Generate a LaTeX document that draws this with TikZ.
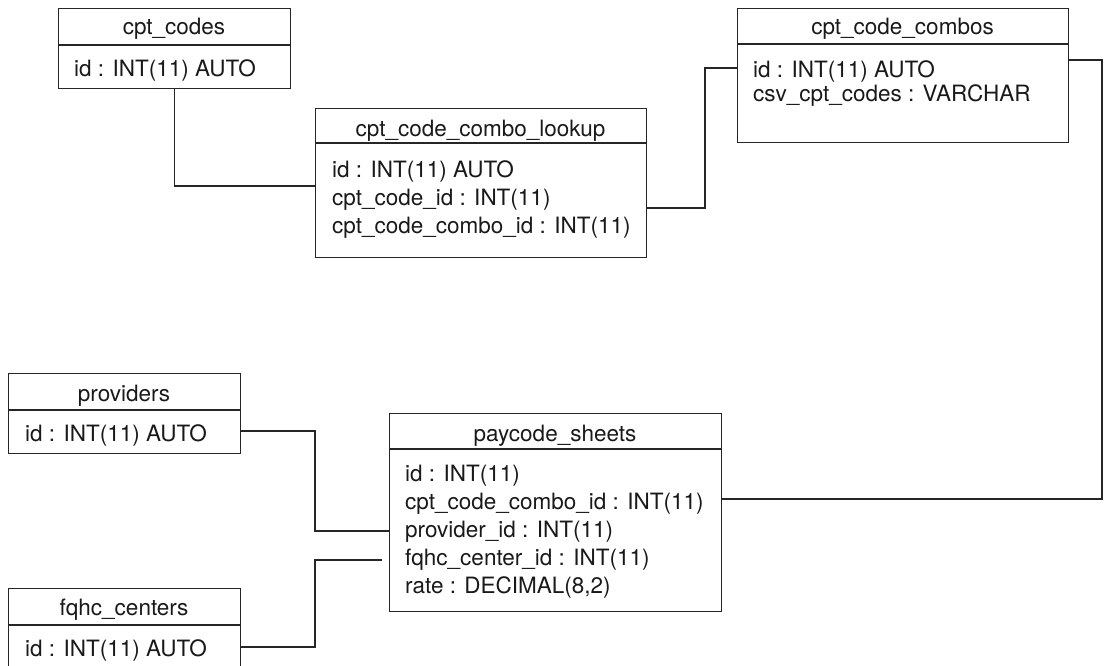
\documentclass[tikz,border=0pt]{standalone}
\usepackage{fontspec}
\setmainfont{TeX Gyre Heros}
\begin{document}
\begin{tikzpicture}[x=1pt,y=-1pt,
  tbl/.style={draw=black!85, line width=1.4pt, anchor=north west, inner sep=0pt, rectangle},
  sep/.style={draw=black!85, line width=1.4pt},
  hdr/.style={anchor=base, inner sep=0pt, font=\fontsize{22.5}{24}\selectfont, text=black!90},
  fld/.style={anchor=base west, inner sep=0pt, font=\fontsize{22.5}{24}\selectfont, text=black!90},
  conn/.style={draw=black!85, line width=1.4pt}]
\useasboundingbox (0,0) rectangle (1105,666);
\clip (0,0) rectangle (1105,666);

% cpt_codes
\node[tbl, minimum width=232pt, minimum height=80pt] (cc) at (58,8) {};
\draw[sep] (cc.west |- 0,45) -- (cc.east |- 0,45);
\node[hdr] (ccH) at (174,35) {cpt\_codes};
\node[fld] (cc1) at (74,77) {id : INT(11) AUTO};

% cpt_code_combo_lookup
\node[tbl, minimum width=331pt, minimum height=149pt] (lk) at (315,108) {};
\draw[sep] (lk.west |- 0,143) -- (lk.east |- 0,143);
\node[hdr] (lkH) at (480.5,136.5) {cpt\_code\_combo\_lookup};
\node[fld] (lk1) at (332,177.3) {id : INT(11) AUTO};
\node[fld] (lk2) at (332,205.3) {cpt\_code\_id : INT(11)};
\node[fld] (lk3) at (332,233.3) {cpt\_code\_combo\_id : INT(11)};

% cpt_code_combos
\node[tbl, minimum width=331pt, minimum height=134pt] (cb) at (737,8) {};
\draw[sep] (cb.west |- 0,44) -- (cb.east |- 0,44);
\node[hdr] (cbH) at (902.5,35) {cpt\_code\_combos};
\node[fld] (cb1) at (753,77.3) {id : INT(11) AUTO};
\node[fld] (cb2) at (753,101.7) {csv\_cpt\_codes : VARCHAR};

% providers
\node[tbl, minimum width=232pt, minimum height=80pt] (pr) at (8,373) {};
\draw[sep] (pr.west |- 0,410) -- (pr.east |- 0,410);
\node[hdr] (prH) at (124,401.5) {providers};
\node[fld] (pr1) at (25,441.7) {id : INT(11) AUTO};

% fqhc_centers
\node[tbl, minimum width=232pt, minimum height=80pt] (fq) at (8,588) {};
\draw[sep] (fq.west |- 0,625) -- (fq.east |- 0,625);
\node[hdr] (fqH) at (124,615.5) {fqhc\_centers};
\node[fld] (fq1) at (25,656.7) {id : INT(11) AUTO};

% paycode_sheets
\node[tbl, minimum width=332pt, minimum height=198pt] (ps) at (389,413) {};
\draw[sep] (ps.west |- 0,449) -- (ps.east |- 0,449);
\node[hdr] (psH) at (555,441.5) {paycode\_sheets};
\node[fld] (ps1) at (405,481.5) {id : INT(11)};
\node[fld] (ps2) at (405,509.5) {cpt\_code\_combo\_id : INT(11)};
\node[fld] (ps3) at (405,537.5) {provider\_id : INT(11)};
\node[fld] (ps4) at (405,565.5) {fqhc\_center\_id : INT(11)};
\node[fld] (ps5) at (405,593.5) {rate : DECIMAL(8,2)};

% connectors
\draw[conn] (cc.south) |- (lk.west |- 0,186);
\draw[conn] (lk.east |- 0,208) -- (705,208) |- (cb.west |- 0,68);
\draw[conn] (cb.east |- 0,60) -- (1102,60) |- (ps.east |- 0,499);
\draw[conn] (pr.east |- 0,431) -- (315,431) |- (ps.west |- 0,531);
\coordinate (fqEnd) at (382,560);
\draw[conn] (fq.east |- 0,647) -- (315,647) |- (fqEnd);
\end{tikzpicture}
\end{document}
